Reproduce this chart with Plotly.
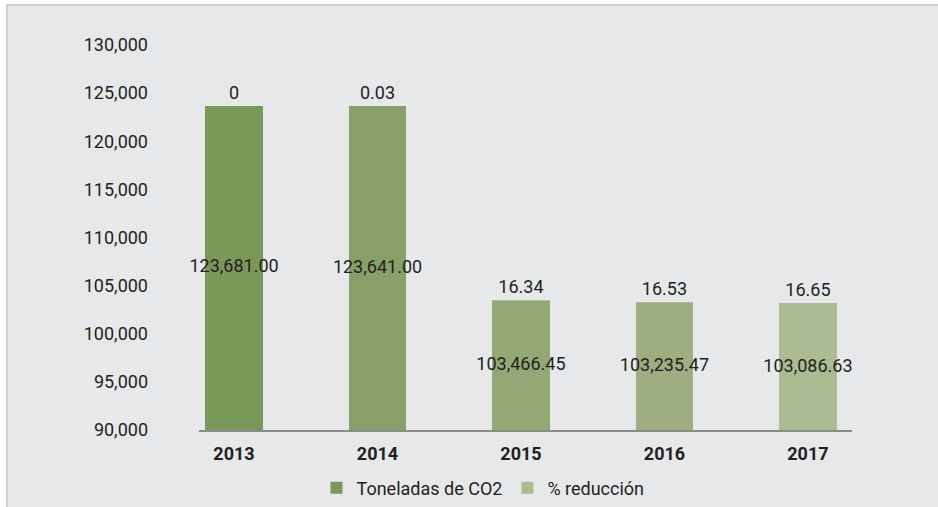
import plotly.graph_objects as go

years = ["2013", "2014", "2015", "2016", "2017"]
toneladas = [123681.00, 123641.00, 103466.45, 103235.47, 103086.63]
reduccion = [0, 0.03, 16.34, 16.53, 16.65]
y_ticks = [90000, 95000, 100000, 105000, 110000, 115000, 120000, 125000, 130000]
y_min, y_max = 90000, 130000

bar_colors = ["#7a9858", "#879f69", "#93a875", "#9fae80", "#abbb92"]
txt = "#231f20"
font = "Roboto"

fig = go.Figure()
fig.add_trace(go.Bar(
    x=years, y=toneladas, name="Toneladas de CO2",
    marker=dict(color=bar_colors, line=dict(width=0)),
    width=0.4, hoverinfo="x+y",
))
fig.add_trace(go.Bar(
    x=years, y=reduccion, name="% reducción",
    marker=dict(color="#abbb92", line=dict(width=0)),
    text=[f"{v:g}" for v in reduccion],
    textposition="outside", constraintext="none", cliponaxis=False,
    textfont=dict(family=font, size=18, color=txt),
    width=0.4,
))
# value labels in the middle of the visible part of each bar
fig.add_trace(go.Scatter(
    x=years, y=[(y_min + v) / 2 for v in toneladas], mode="text",
    text=[f"{v:,.2f}" for v in toneladas], textposition="middle center",
    textfont=dict(family=font, size=18, color=txt), cliponaxis=False,
    showlegend=False, hoverinfo="skip",
))

# grey panel with thin border behind the chart
fig.add_shape(type="rect", xref="paper", yref="paper",
              x0=-0.294, x1=1.2, y0=-0.25, y1=1.104,
              fillcolor="#e7e8ea", line=dict(color="#d0d1d3", width=2),
              layer="below")

fig.update_layout(
    barmode="stack",
    width=938, height=507,
    margin=dict(l=199, r=86, t=45, b=77, autoexpand=False),
    paper_bgcolor="white", plot_bgcolor="rgba(0,0,0,0)",
    font=dict(family=font, size=18, color=txt),
    showlegend=True,
    legend=dict(orientation="h", x=0.18, y=-0.151, xanchor="left", yanchor="middle",
                font=dict(family=font, size=18, color=txt),
                bgcolor="rgba(0,0,0,0)", traceorder="normal", itemsizing="constant"),
    xaxis=dict(range=[-0.244, 4.307], showgrid=False, showline=True,
               linecolor="#8a8b8d", linewidth=2, ticks="",
               tickfont=dict(family=font, size=18, color=txt, weight="bold"),
               ticklabelstandoff=6, automargin=False),
    yaxis=dict(range=[y_min, y_max], tickvals=y_ticks, tickformat=",d",
               showgrid=False, showline=False, zeroline=False, ticks="",
               ticklabelstandoff=50, automargin=False,
               tickfont=dict(family=font, size=18, color=txt)),
)

fig.write_html("out.html", config={"displayModeBar": False},
               post_script="document.body.style.margin='0';document.body.style.overflow='hidden';")
